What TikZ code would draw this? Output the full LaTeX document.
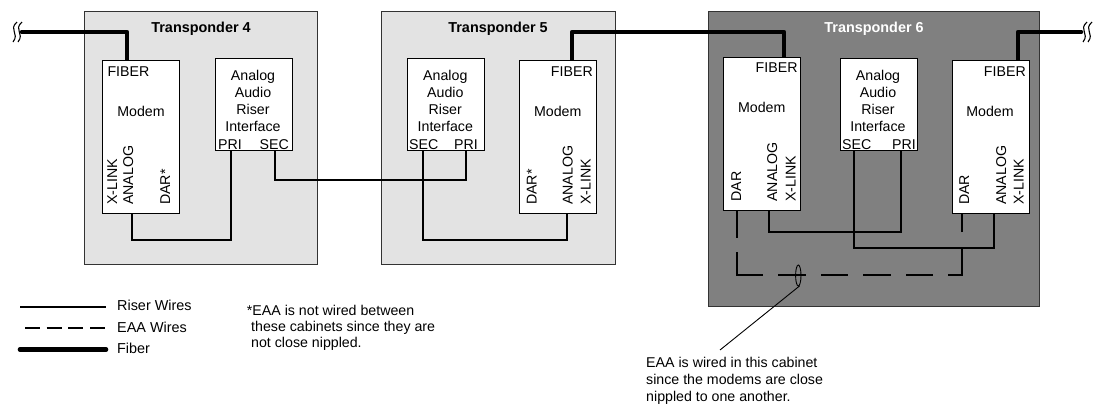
\documentclass[tikz,border=0pt]{standalone}
\usepackage{fontspec}
\setmainfont{Liberation Sans}
\begin{document}
\begin{tikzpicture}[x=1pt,y=-1pt,
  cabinet/.style={draw=black!80,line width=1pt},
  lightcab/.style={cabinet,fill=black!11},
  darkcab/.style={cabinet,fill=black!50},
  unit/.style={draw=black,fill=white,line width=1pt},
  lbl/.style={inner sep=0pt,font=\fontsize{14.2}{16.8}\selectfont},
  leg/.style={inner sep=0pt,anchor=base west,font=\fontsize{14.4}{16.8}\selectfont},
  head/.style={inner sep=0pt,anchor=base,font=\fontsize{14.4}{16.8}\selectfont\bfseries},
  rot/.style={lbl,rotate=90,anchor=base west},
  wire/.style={draw=black,line width=1.4pt},
  fiber/.style={draw=black,line width=4.6pt,line join=round,line cap=round},
  leader/.style={draw=black,line width=0.9pt},
  breakmark/.style={draw=black,line width=1.1pt}]
\useasboundingbox (0,0) rectangle (1096,405);
% cabinets
\path[lightcab] (84,11) rectangle (317,264);
\path[lightcab] (381,11) rectangle (615,264);
\path[darkcab] (708,11) rectangle (1039.5,306);
\node[head] (t4) at (201,32.7) {Transponder 4};
\node[head] (t5) at (498,32.7) {Transponder 5};
\node[head,text=white] (t6) at (874,32.7) {Transponder 6};
% coordinates of the free ends and ports
\coordinate (breakL) at (22,32);
\coordinate (breakR) at (1081,32);
% fiber
\draw[fiber] (breakL) -- (127,32) -- (127,61);
\draw[fiber] (572,61) -- (572,32) -- (784,32) -- (784,58);
\draw[fiber] (1018,61) -- (1018,32) -- (breakR);
% units
\path[unit] (102,60) rectangle (179.5,213);
\path[unit] (215,58) rectangle (292,150);
\path[unit] (407,58) rectangle (484,150);
\path[unit] (519,60) rectangle (596,213);
\path[unit] (723.5,57) rectangle (800,210);
\path[unit] (840,58) rectangle (917,150);
\path[unit] (952,60) rectangle (1029,213);
% riser wires
\draw[wire] (132,213) -- (132,240) -- (231,240) -- (231,150);
\draw[wire] (275,150) -- (275,180) -- (466,180) -- (466,150);
\draw[wire] (423,150) -- (423,240) -- (567,240) -- (567,213);
\draw[wire] (769,210) -- (769,232) -- (901,232) -- (901,150);
\draw[wire] (854,150) -- (854,248) -- (994,248) -- (994,213);
% EAA
\draw[wire,dash pattern=on 28pt off 14pt on 49pt off 15pt on 28pt off 15pt on 27pt off 15pt on 28pt off 15pt on 27pt off 15pt on 41pt off 16pt on 19pt]
  (737,210) -- (737,275) -- (962,275) -- (962,213);
\draw[leader] (798.3,275.5) ellipse (2.7 and 10.5);
\draw[leader] (799.5,286) -- (720,350);
% modem 4
\node[lbl,anchor=base west] (f4) at (107.3,76) {FIBER};
\node[lbl,anchor=base] (m4) at (141,116) {Modem};
\node[rot] (x4) at (117,205) {X-LINK};
\node[rot] (a4) at (133,205) {ANALOG};
\node[rot] (d4) at (170,205) {DAR*};
% riser interfaces
\foreach \n/\cx in {r4/253,r5/445.3,r6/878}{
  \node[lbl,anchor=base] (\n a) at (\cx,80.6) {Analog};
  \node[lbl,anchor=base] (\n b) at (\cx,97.3) {Audio};
  \node[lbl,anchor=base] (\n c) at (\cx,114) {Riser};
  \node[lbl,anchor=base] (\n d) at (\cx,131) {Interface};
}
\node[lbl,anchor=base west] (p4) at (218,149) {PRI};
\node[lbl,anchor=base east] (s4) at (289,149) {SEC};
\node[lbl,anchor=base west] (s5) at (409,149) {SEC};
\node[lbl,anchor=base east] (p5) at (478,149) {PRI};
\node[lbl,anchor=base west] (s6) at (842,149) {SEC};
\node[lbl,anchor=base east] (p6) at (916,149) {PRI};
% modem 5
\node[lbl,anchor=base east] (f5) at (593,76) {FIBER};
\node[lbl,anchor=base] (m5) at (557.7,116) {Modem};
\node[rot] (d5) at (536.7,205) {DAR*};
\node[rot] (a5) at (572.7,205) {ANALOG};
\node[rot] (x5) at (590.7,205) {X-LINK};
% modem 6a
\node[lbl,anchor=base east] (f6a) at (797.7,72.7) {FIBER};
\node[lbl,anchor=base] (m6a) at (761.7,112) {Modem};
\node[rot] (d6a) at (741,201.7) {DAR};
\node[rot] (a6a) at (777,201.7) {ANALOG};
\node[rot] (x6a) at (795.7,201.7) {X-LINK};
% modem 6b
\node[lbl,anchor=base east] (f6b) at (1026,76) {FIBER};
\node[lbl,anchor=base] (m6b) at (990,116) {Modem};
\node[rot] (d6b) at (969,205) {DAR};
\node[rot] (a6b) at (1006,205) {ANALOG};
\node[rot] (x6b) at (1023.7,205) {X-LINK};
% breaks
\draw[breakmark] (17,22) .. controls (8,30) and (20,33) .. (13,42);
\draw[breakmark] (22,22) .. controls (13,30) and (25,33) .. (18,42);
\draw[breakmark] (1087,22) .. controls (1078,30) and (1090,33) .. (1083,42);
\draw[breakmark] (1092,22) .. controls (1083,30) and (1095,33) .. (1088,42);
% legend
\node[leg] (lg1) at (117,310.7) {Riser Wires};
\node[leg] (lg2) at (117,332.7) {EAA Wires};
\node[leg] (lg3) at (117,353.3) {Fiber};
\coordinate (l1a) at (20,307); \coordinate (l1b) at (106,307);
\coordinate (l2a) at (25,328); \coordinate (l2b) at (105,328);
\coordinate (l3a) at (20,349.5); \coordinate (l3b) at (106,349.5);
\draw[wire] (l1a) -- (l1b);
\draw[wire,dash pattern=on 15pt off 6.7pt] (l2a) -- (l2b);
\draw[fiber] (l3a) -- (l3b);
% notes
\node[lbl,anchor=base west] (n1) at (246.7,315) {*EAA is not wired between};
\node[lbl,anchor=base west] (n2) at (251,331) {these cabinets since they are};
\node[lbl,anchor=base west] (n3) at (251,347.5) {not close nippled.};
\node[lbl,anchor=base west] (c1) at (646,367) {EAA is wired in this cabinet};
\node[lbl,anchor=base west] (c2) at (646,384) {since the modems are close};
\node[lbl,anchor=base west] (c3) at (646,401.6) {nippled to one another.};
\end{tikzpicture}
\end{document}
